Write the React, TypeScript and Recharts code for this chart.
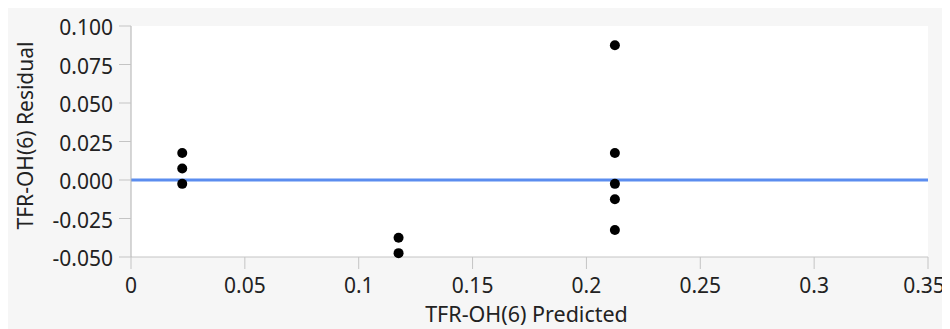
import {
  ScatterChart,
  Scatter,
  XAxis,
  YAxis,
  CartesianGrid,
  ReferenceLine,
  Label,
} from "recharts";

const predicted = [0.0225, 0.0225, 0.0225, 0.1175, 0.1175, 0.2125, 0.2125, 0.2125, 0.2125, 0.2125];
const residual = [0.0175, 0.0075, -0.0025, -0.0375, -0.0475, 0.0875, 0.0175, -0.0025, -0.0125, -0.0325];

const xTicks = [0, 0.05, 0.1, 0.15, 0.2, 0.25, 0.3, 0.35];
const yTicks = [-0.05, -0.025, 0, 0.025, 0.05, 0.075, 0.1];

const xTitle = "TFR-OH(6) Predicted";
const yTitle = "TFR-OH(6) Residual";

const points = predicted.map((p, i) => ({ p, r: residual[i] }));

const FONT = "'Noto Sans', sans-serif";
const TEXT = "#222";
const TICK_LINE = "#c4c4c4";
const AXIS_LINE = "#b0b0b0";

const Dot = (props: any) => <circle cx={props.cx} cy={props.cy} r={5} fill="#000" />;

// last label is pulled in a little so it fits, like the original
const XTick = (props: any) => {
  const { x, y, payload, index } = props;
  const shift = index === xTicks.length - 1 ? -4 : 0;
  return (
    <text x={x + shift} y={y} dy="0.71em" textAnchor="middle" fontFamily={FONT} fontSize={21} fill={TEXT}>
      {String(payload.value)}
    </text>
  );
};

const XTitle = ({ viewBox }: any) => (
  <text
    x={viewBox.x + viewBox.width / 2 - 3}
    y={314}
    textAnchor="middle"
    fontFamily={FONT}
    fontSize={21.5}
    fill={TEXT}
  >
    {xTitle}
  </text>
);

const YTitle = ({ viewBox }: any) => {
  const x = 25;
  const y = viewBox.y + viewBox.height / 2 - 6;
  return (
    <text
      x={x}
      y={y}
      transform={`rotate(-90, ${x}, ${y})`}
      textAnchor="middle"
      fontFamily={FONT}
      fontSize={21}
      fill={TEXT}
    >
      {yTitle}
    </text>
  );
};

export default function App() {
  return (
    <div style={{ width: 942, height: 321, background: "#f6f6f6" }}>
      <ScatterChart width={942} height={321} margin={{ top: 18, right: 22, left: 0, bottom: 0 }}>
        <CartesianGrid fill="#ffffff" horizontal={false} vertical={false} xAxisId="x" yAxisId="y" />
        <XAxis
          xAxisId="x"
          dataKey="p"
          type="number"
          domain={[0, 0.35]}
          ticks={xTicks}
          height={72}
          tickSize={12}
          tickMargin={9}
          tick={<XTick />}
          tickLine={{ stroke: TICK_LINE }}
          axisLine={{ stroke: TICK_LINE }}
        >
          <Label content={<XTitle />} />
        </XAxis>
        <XAxis
          xAxisId="top"
          orientation="top"
          type="number"
          domain={[0, 0.35]}
          height={0}
          tick={false}
          tickLine={false}
          axisLine={{ stroke: "#d0d0d0" }}
        />
        <YAxis
          yAxisId="y"
          dataKey="r"
          type="number"
          domain={[-0.05, 0.1]}
          ticks={yTicks}
          width={123}
          tickSize={12}
          tickMargin={6}
          tickFormatter={(v: number) => v.toFixed(3)}
          tick={{ fontFamily: FONT, fontSize: 21, fill: TEXT, dy: 2 }}
          tickLine={{ stroke: TICK_LINE }}
          axisLine={{ stroke: AXIS_LINE }}
        >
          <Label content={<YTitle />} />
        </YAxis>
        <YAxis
          yAxisId="right"
          orientation="right"
          type="number"
          domain={[-0.05, 0.1]}
          width={0}
          tick={false}
          tickLine={false}
          axisLine={{ stroke: "#d0d0d0" }}
        />
        <ReferenceLine xAxisId="x" yAxisId="y" y={0} stroke="#5b8def" strokeWidth={3} />
        <Scatter
          xAxisId="x"
          yAxisId="y"
          data={points}
          shape={<Dot />}
          isAnimationActive={false}
        />
      </ScatterChart>
    </div>
  );
}
